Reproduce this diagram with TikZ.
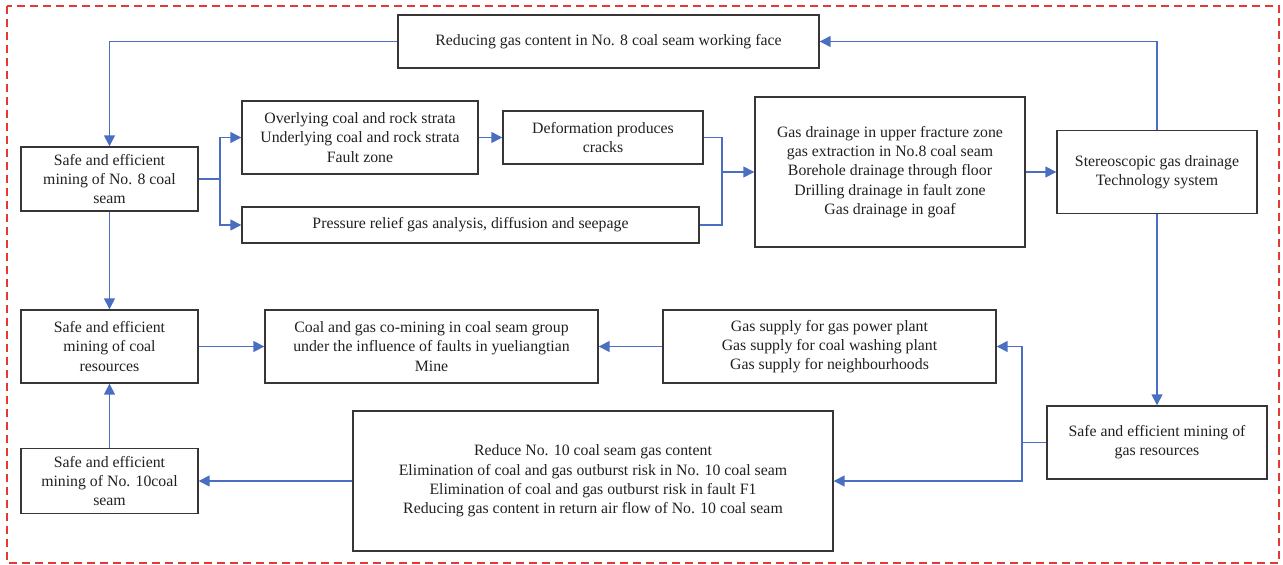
\documentclass[tikz,border=0pt]{standalone}
\usepackage{fontspec}
\setmainfont{Liberation Serif}
\usetikzlibrary{arrows.meta}
\definecolor{conn}{HTML}{4A6FC1}
\definecolor{frame}{HTML}{E53935}
\definecolor{txt}{HTML}{231F20}
\tikzset{
  box/.style={draw=txt!90, line width=1.4pt, align=center, inner sep=2pt,
    font=\fontsize{15.8}{19.2}\selectfont, text=txt},
  link/.style={draw=conn, line width=1.5pt},
  arr/.style={link, -{Triangle[length=11pt,width=11pt]}},
}
\begin{document}
\begin{tikzpicture}[x=1pt,y=-1pt]
\useasboundingbox (0,0) rectangle (1283,565);
\draw[frame, line width=1.3pt, dash pattern=on 8pt off 5pt] (7,6) rectangle (1279,563);

\node[box, minimum width=421pt, minimum height=53pt] (r8) at (608.5,41.5) {Reducing gas content in No. 8 coal seam working face};
\node[box, minimum width=177pt, minimum height=64pt] (s8) at (109.5,179) {Safe and efficient\\mining of No. 8 coal\\seam};
\node[box, minimum width=236pt, minimum height=73pt] (ov) at (360,137.5) {Overlying coal and rock strata\\Underlying coal and rock strata\\Fault zone};
\node[box, minimum width=200pt, minimum height=53pt] (de) at (603,137.5) {Deformation produces\\cracks};
\node[box, minimum width=457pt, minimum height=36pt] (pr) at (470.5,225) {Pressure relief gas analysis, diffusion and seepage};
\node[box, minimum width=270pt, minimum height=150pt] (gd) at (890,172) {Gas drainage in upper fracture zone\\gas extraction in No.8 coal seam\\Borehole drainage through floor\\Drilling drainage in fault zone\\Gas drainage in goaf};
\node[box, minimum width=200pt, minimum height=83pt] (st) at (1157,172) {Stereoscopic gas drainage\\Technology system};
\node[box, minimum width=177pt, minimum height=73pt] (sc) at (109.5,346.5) {Safe and efficient\\mining of coal\\resources};
\node[box, minimum width=333pt, minimum height=73pt] (cm) at (431.5,346.5) {Coal and gas co-mining in coal seam group\\under the influence of faults in yueliangtian\\Mine};
\node[box, minimum width=333pt, minimum height=73pt] (gs) at (829.5,346.5) {Gas supply for gas power plant\\Gas supply for coal washing plant\\Gas supply for neighbourhoods};
\node[box, minimum width=480pt, minimum height=140pt] (r10) at (593,481) {Reduce No. 10 coal seam gas content\\Elimination of coal and gas outburst risk in No. 10 coal seam\\Elimination of coal and gas outburst risk in fault F1\\Reducing gas content in return air flow of No. 10 coal seam};
\node[box, minimum width=177pt, minimum height=65pt] (s10) at (109.5,481) {Safe and efficient\\mining of No. 10coal\\seam};
\node[box, minimum width=220pt, minimum height=73pt] (sg) at (1157,442.5) {Safe and efficient mining of\\gas resources};

\coordinate (b1) at (220,179);
\coordinate (b2) at (722,172);
\coordinate (b3) at (1022,442.5);

\draw[arr] (st.north) |- (r8.east);
\draw[arr] (r8.west) -| (s8.north);
\draw[link] (s8.east) -- (b1);
\draw[arr] (b1) |- (ov.west);
\draw[arr] (b1) |- (pr.west);
\draw[arr] (ov.east) -- (de.west);
\draw[link, line width=1.2pt] (de.east) -| (b2);
\draw[link, line width=1.2pt] (pr.east) -| (b2);
\draw[arr] (b2) -- (gd.west);
\draw[arr] (gd.east) -- (st.west);
\draw[arr] (st.south) -- (sg.north);
\draw[link] (sg.west) -- (b3);
\draw[arr] (b3) |- (gs.east);
\draw[arr] (b3) |- (r10.east);
\draw[arr] (gs.west) -- (cm.east);
\draw[arr] (sc.east) -- (cm.west);
\draw[arr] (s8.south) -- (sc.north);
\draw[arr] (s10.north) -- (sc.south);
\draw[arr] (r10.west) -- (s10.east);
\end{tikzpicture}
\end{document}
